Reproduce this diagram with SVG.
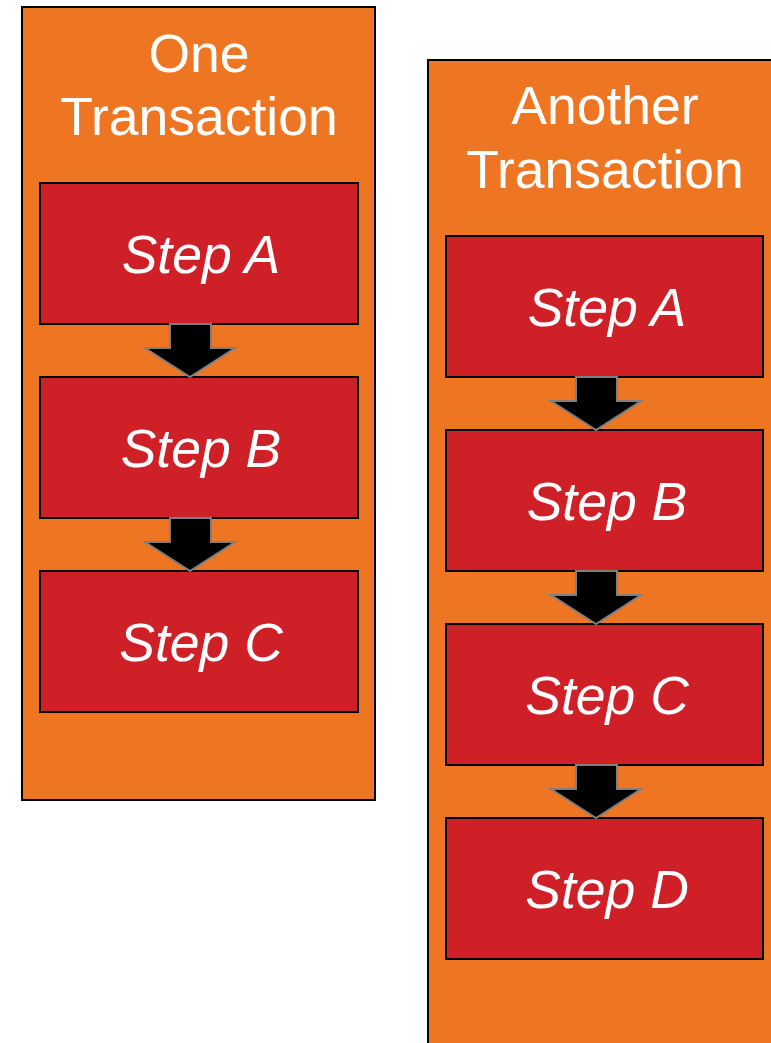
<svg xmlns="http://www.w3.org/2000/svg" width="771" height="1043" viewBox="0 0 771 1043">
<defs>
<style>
.cont{fill:#EE7623;stroke:#000;stroke-width:2}
.step{fill:#D02027;stroke:#000;stroke-width:2}
.title{font-family:"Liberation Sans",Arial,sans-serif;font-size:53.5px;fill:#fff;text-anchor:middle}
.lbl{font-family:"Liberation Sans",Arial,sans-serif;font-size:53.5px;font-style:italic;fill:#fff;text-anchor:middle}
.arr{fill:#000;stroke:#7F7F7F;stroke-width:2;stroke-linejoin:miter}
</style>
<path id="arrow" class="arr" d="M-20,0 H21 V24 H45 L0,53 L-45,24 H-20 Z"/>
</defs>
<rect width="771" height="1043" fill="#fff"/>
<g id="one-transaction">
<rect class="cont" x="22" y="7" width="353" height="793"/>
<text class="title" x="199" y="72">One</text>
<text class="title" x="199" y="135">Transaction</text>
</g>
<g id="another-transaction">
<rect class="cont" x="428" y="60" width="350" height="990"/>
<text class="title" x="605" y="124">Another</text>
<text class="title" x="605" y="188">Transaction</text>
</g>
<g id="l-step-a"><rect class="step" x="40" y="183" width="318" height="141"/><text class="lbl" x="201" y="273">Step A</text></g>
<g id="l-step-b"><rect class="step" x="40" y="377" width="318" height="141"/><text class="lbl" x="201" y="467">Step B</text></g>
<g id="l-step-c"><rect class="step" x="40" y="571" width="318" height="141"/><text class="lbl" x="201" y="661">Step C</text></g>
<g id="r-step-a"><rect class="step" x="446" y="236" width="317" height="141"/><text class="lbl" x="607" y="326">Step A</text></g>
<g id="r-step-b"><rect class="step" x="446" y="430" width="317" height="141"/><text class="lbl" x="607" y="520">Step B</text></g>
<g id="r-step-c"><rect class="step" x="446" y="624" width="317" height="141"/><text class="lbl" x="607" y="714">Step C</text></g>
<g id="r-step-d"><rect class="step" x="446" y="818" width="317" height="141"/><text class="lbl" x="607" y="908">Step D</text></g>
<g id="connectors">
<use href="#arrow" x="190" y="324"/>
<use href="#arrow" x="190" y="518"/>
<use href="#arrow" x="596" y="377"/>
<use href="#arrow" x="596" y="571"/>
<use href="#arrow" x="596" y="765"/>
</g>
</svg>
